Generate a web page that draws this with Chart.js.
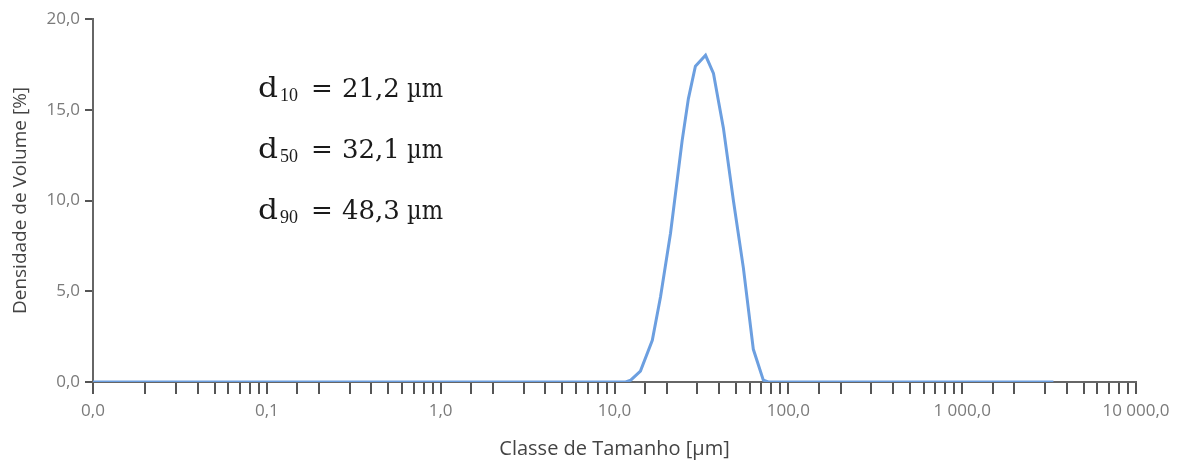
<!DOCTYPE html>
<html lang="pt">
<head>
    <meta charset="UTF-8">
    <title>Distribuição de Tamanho de Partícula</title>
    <style>
        html, body { margin: 0; padding: 0; background: #fff; }
        #wrap { width: 1179px; height: 461px; }
    </style>
</head>
<body>
    <div id="wrap"><canvas id="psdChart"></canvas></div>
    <script src="https://cdn.jsdelivr.net/npm/chart.js"></script>
    <script>
// tamanhos (µm) e densidade de volume (%)
const sizes = [0.01, 11.6, 12.4, 14.1, 16.5, 18.4, 21.0, 24.5, 26.6, 29.2, 33.4, 37.1, 39.6, 42.3, 48.3, 55.1, 62.9, 71.8, 76.7, 3350];
const volume = [0, 0, 0.1, 0.6, 2.3, 4.7, 8.2, 13.3, 15.6, 17.4, 18.0, 17.0, 15.5, 14.0, 10.0, 6.3, 1.8, 0.1, 0, 0];

const xTickValues = [0.01, 0.1, 1, 10, 100, 1000, 10000];
const xTickLabels = ['0,0', '0,1', '1,0', '10,0', '100,0', '1 000,0', '10 000,0'];
const yTickLabels = ['0,0', '5,0', '10,0', '15,0', '20,0'];

const dNames = ['10', '50', '90'];
const dValues = ['21,2', '32,1', '48,3'];

const points = sizes.map((s, i) => ({ x: s, y: volume[i] }));

// escreve um texto esticado/encolhido na horizontal até à largura pedida
function fitText(c, text, x, y, font, width) {
    c.font = font;
    const w = c.measureText(text).width;
    c.save();
    c.translate(x, y);
    c.scale(width / w, 1);
    c.fillText(text, 0, 0);
    c.restore();
}

// texto d10 / d50 / d90
const annotations = {
    id: 'annotations',
    afterDraw(chart) {
        const c = chart.ctx;
        c.save();
        c.fillStyle = '#1a1a1a';
        c.textBaseline = 'alphabetic';
        for (let i = 0; i < dNames.length; i++) {
            const y = 97 + i * 61;
            fitText(c, 'd', 258, y, '27px "DejaVu Serif"', 20);
            fitText(c, dNames[i], 280, y + 4, '19px "Liberation Serif"', 18);
            c.font = '26px "DejaVu Serif"';
            c.fillText('=', 311, y);
            c.fillText(dValues[i], 342, y);
            fitText(c, 'µm', 407, y, '26px "DejaVu Serif"', 36);
        }
        c.restore();
    }
};

const ctx = document.getElementById('psdChart').getContext('2d');
const psdChart = new Chart(ctx, {
    type: 'line',
    data: {
        datasets: [{
            data: points,
            borderColor: '#6c9fe0',
            borderWidth: 3,
            pointRadius: 0,
            fill: false,
            tension: 0
        }]
    },
    options: {
        responsive: true,
        maintainAspectRatio: false,
        animation: false,
        layout: { padding: { top: 19, right: 43, left: 0, bottom: 0 } },
        plugins: { legend: { display: false }, tooltip: { enabled: false } },
        scales: {
            x: {
                type: 'logarithmic',
                min: 0.01,
                max: 10000,
                afterFit(scale) { scale.height = 79; },
                border: { color: '#666', width: 2 },
                grid: { drawOnChartArea: false, drawTicks: true, tickLength: 12, color: '#555', lineWidth: 2 },
                ticks: {
                    autoSkip: false,
                    maxRotation: 0,
                    padding: 7,
                    color: '#7a7a7a',
                    font: { family: 'Open Sans', size: 17 },
                    callback(value) {
                        const idx = xTickValues.findIndex(v => Math.abs(v - value) / v < 1e-6);
                        return idx >= 0 ? xTickLabels[idx] : '';
                    }
                },
                title: {
                    display: true,
                    text: 'Classe de Tamanho [µm]',
                    color: '#444',
                    font: { family: 'Open Sans', size: 20 },
                    padding: { top: 0, bottom: 0 }
                }
            },
            y: {
                min: 0,
                max: 20,
                afterFit(scale) { scale.width = 93; },
                border: { color: '#666', width: 2 },
                grid: { drawOnChartArea: false, drawTicks: true, tickLength: 8, color: '#555', lineWidth: 2 },
                ticks: {
                    stepSize: 5,
                    padding: 5,
                    color: '#7a7a7a',
                    font: { family: 'Open Sans', size: 17 },
                    callback(value) { return yTickLabels[value / 5]; }
                },
                title: {
                    display: true,
                    text: 'Densidade de Volume [%]',
                    color: '#444',
                    font: { family: 'Open Sans', size: 19 },
                    padding: { top: 9, bottom: 0 }
                }
            }
        }
    },
    plugins: [annotations]
});
    </script>
</body>
</html>
